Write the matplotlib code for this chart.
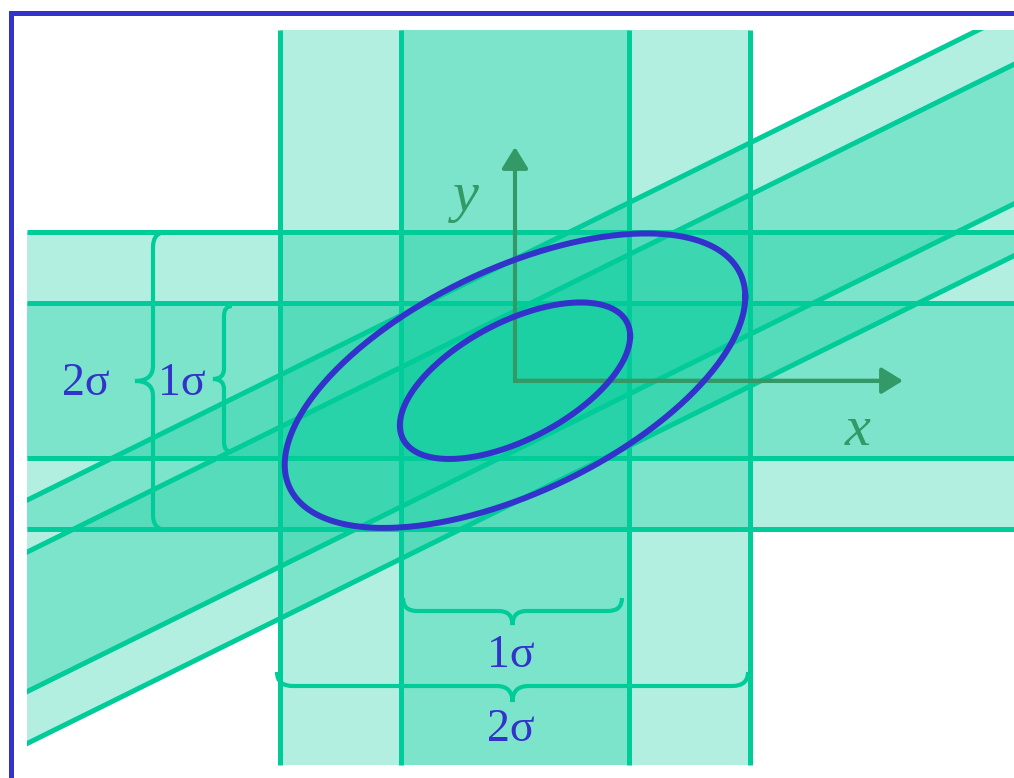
import numpy as np
import matplotlib
matplotlib.use('Agg')
import matplotlib.pyplot as plt
from matplotlib.path import Path
from matplotlib.patches import PathPatch, Rectangle

# half widths of the x and y bands (1 sigma, 2 sigma)
band_x = [1.0, 2.06]
band_y = [1.0, 1.92]
# diagonal bands y = slope * x +- offset
diag_slope = 0.727
diag_off = [0.90, 1.57]
# contour ellipses (x extent, y extent) and correlation
ell_x = [1.01, 2.02]
ell_y = [1.01, 1.90]
rho = 0.57
sigma_labels = ['1σ', '2σ']

GREEN = '#00cc99'
BLUE = '#3333cc'
AXIS = '#339966'
SERIF = ['Liberation Serif', 'DejaVu Serif']

W, H = 1014, 778
ORIGIN = (515, 380.7)  # pixel of (0, 0)
UX, UY = 114.0, 77.5   # pixels per unit


def px(x, y):
    # picture pixel -> data
    return (x - ORIGIN[0]) / UX, (ORIGIN[1] - y) / UY


def brace_v(x, y_top, y_bot, tip, hook, r):
    ym = (y_top + y_bot) / 2
    verts = [(x + hook, y_top), (x, y_top), (x, y_top + r),
             (x, ym - r), (x, ym), (x - tip, ym),
             (x, ym), (x, ym + r),
             (x, y_bot - r), (x, y_bot), (x + hook, y_bot)]
    return verts


def brace_h(y, x_l, x_r, tip, hook, r):
    xm = (x_l + x_r) / 2
    verts = [(x_l, y - hook), (x_l, y), (x_l + r, y),
             (xm - r, y), (xm, y), (xm, y + tip),
             (xm, y), (xm + r, y),
             (x_r - r, y), (x_r, y), (x_r, y - hook)]
    return verts


codes = [Path.MOVETO, Path.CURVE3, Path.CURVE3, Path.LINETO, Path.CURVE3, Path.CURVE3,
         Path.CURVE3, Path.CURVE3, Path.LINETO, Path.CURVE3, Path.CURVE3]

fig = plt.figure(figsize=(W / 100, H / 100), dpi=100)
ax = fig.add_axes([0, 0, 1, 1])
ax.set_xlim(-ORIGIN[0] / UX, (W - ORIGIN[0]) / UX)
ax.set_ylim(-(H - ORIGIN[1]) / UY, ORIGIN[1] / UY)
ax.axis('off')

# drawing frame
x0f, y1f = px(27, 30)
x1f, y0f = px(1030, 765)
clip = Rectangle((x0f, y0f), x1f - x0f, y1f - y0f, transform=ax.transData)

# band fills
for w in band_x:
    ax.fill_between([-w, w], y0f, y1f, color=GREEN, alpha=0.3, lw=0, zorder=1)
for h in band_y:
    ax.fill_between([x0f, x1f], -h, h, color=GREEN, alpha=0.3, lw=0, zorder=1)
xs = np.array([x0f - 1, x1f + 1])
for c in diag_off:
    p = ax.fill_between(xs, diag_slope * xs - c, diag_slope * xs + c,
                        color=GREEN, alpha=0.3, lw=0, zorder=1)
    p.set_clip_path(clip)

# band edges
for w in band_x:
    for s in (-1, 1):
        ax.plot([s * w, s * w], [y0f, y1f], color=GREEN, lw=3.6,
                solid_capstyle='butt', zorder=2)
for h in band_y:
    for s in (-1, 1):
        ax.plot([x0f, x1f], [s * h, s * h], color=GREEN, lw=3.6,
                solid_capstyle='butt', zorder=2)
for c in diag_off:
    for s in (-1, 1):
        ln, = ax.plot(xs, diag_slope * xs + s * c, color=GREEN, lw=3.6, zorder=2)
        ln.set_clip_path(clip)

# braces
braces = [brace_v(153, 232, 530, 18, 14, 15),
          brace_v(224, 306, 452, 11, 8, 10),
          brace_h(611, 403, 622, 14, 13, 14),
          brace_h(686, 277, 748, 16, 14, 16)]
for b in braces:
    path = Path([px(*v) for v in b], codes)
    ax.add_patch(PathPatch(path, fill=False, ec=GREEN, lw=3.0, zorder=2))

# coordinate axes
xtip = px(903, 0)[0]
ytip = px(0, 147)[1]
ax.plot([0, 0, xtip - 0.1], [ytip - 0.15, 0, 0], color=AXIS, lw=2.9,
        solid_joinstyle='miter', solid_capstyle='butt', zorder=3)
for xy in [(xtip, 0), (0, ytip)]:
    ax.annotate('', xy=xy, xytext=(0, 0),
                arrowprops=dict(arrowstyle='-|>,head_length=0.65,head_width=0.4',
                                mutation_scale=20, lw=2.9, color=AXIS,
                                shrinkA=0, shrinkB=0), zorder=3)
ax.text(*px(858, 445), 'x', fontsize=42, style='italic', family=SERIF,
        color=AXIS, ha='center', va='baseline', zorder=5)
ax.text(*px(466, 211), 'y', fontsize=42, style='italic', family=SERIF,
        color=AXIS, ha='center', va='baseline', zorder=5)

# contour ellipses
t = np.linspace(0, 2 * np.pi, 400)
phi = np.arccos(rho)
for a, b in zip(ell_x, ell_y):
    ax.plot(a * np.cos(t), b * np.cos(t - phi), color=BLUE, lw=4.3, zorder=4)

# sigma labels
label_pos = [[(182, 395), (511, 667)], [(85.5, 395), (511, 741)]]
for lab, pos in zip(sigma_labels, label_pos):
    for p in pos:
        ax.text(*px(*p), lab, fontsize=33, family=SERIF, color=BLUE,
                ha='center', va='baseline', zorder=5)

# outer border
fig.add_artist(Rectangle((10.5 / W, -0.1), 1.2, 1.1 - 13.5 / H, transform=fig.transFigure,
                         fill=False, ec=BLUE, lw=3.6))

fig.savefig('out.png', dpi=100)
